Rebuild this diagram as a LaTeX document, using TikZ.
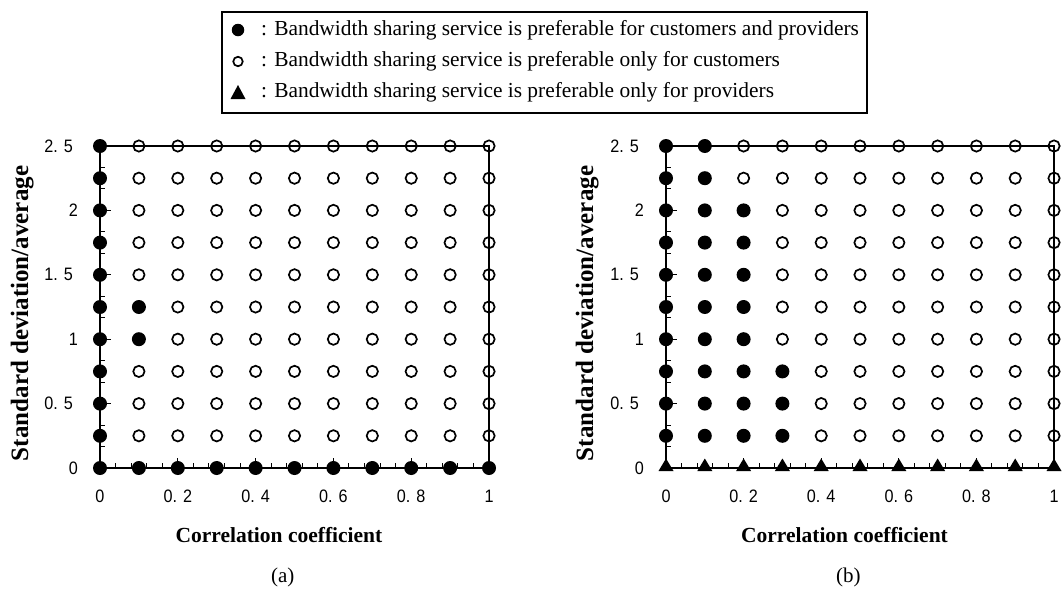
\documentclass[tikz,border=0pt]{standalone}
\usepackage{fontspec}
\setmainfont{Liberation Serif}
\newfontfamily\tickfont[FakeStretch=0.9]{Liberation Sans}
\tikzset{
  axisline/.style={line width=2pt, line cap=rect},
  frameline/.style={line width=1.6pt},
  tickline/.style={line width=1pt},
  fdot/.style={circle, fill=black, inner sep=0pt, minimum size=14pt},
  odot/.style={circle, draw=black, line width=1.7pt, inner sep=0pt, minimum size=11.3pt},
  ticklab/.style={font=\fontsize{18}{18}\tickfont, inner sep=0pt},
  axlab/.style={font=\fontsize{21.5}{21.5}\selectfont\bfseries, inner sep=0pt},
  yaxlab/.style={font=\fontsize{25}{25}\selectfont\bfseries, inner sep=0pt, rotate=90},
  legtext/.style={font=\fontsize{21.4}{21.4}\selectfont, inner sep=0pt, anchor=west},
  sublab/.style={font=\fontsize{21}{21}\selectfont, inner sep=0pt},
  legbox/.style={draw=black, line width=1.3pt},
}
\newcommand\myaxes[1]{%
  \draw[frameline] (0,2.5) -- (1,2.5) -- (1,0);
  \draw[axisline] (0,2.5) -- (0,0) -- (1,0);
  \foreach \k in {1,...,24} \draw[tickline] (\k*0.04,0) -- ++(0,5pt);
  \foreach \k in {1,...,4} \draw[tickline] (\k*0.2,0) -- ++(0,10pt);
  \foreach \k in {1,...,14} \draw[tickline] (0,\k/6) -- ++(5pt,0);
  \foreach \k in {1,...,4} \draw[tickline] (0,\k*0.5) -- ++(11pt,0);
  \foreach \v/\t in {0/0,1/1,2/2} \node[ticklab, anchor=east, xshift=-22pt] (#1-yl\v) at (0,\v) {\t};
  \foreach \v/\t/\n in {0.5/0. 5/a,1.5/1. 5/b,2.5/2. 5/c} \node[ticklab, anchor=east, xshift=-27pt] (#1-yl\n) at (0,\v) {\t};
  \foreach \v/\t/\n in {0/0/a,0.2/0. 2/b,0.4/0. 4/c,0.6/0. 6/d,0.8/0. 8/e,1/1/f} \node[ticklab, anchor=north, yshift=-22pt] (#1-xl\n) at (\v,0) {\t};
  \node[axlab] (#1-xlab) at (0.46,-0.52) {Correlation coefficient};
}
\begin{document}
\begin{tikzpicture}[x=1pt, y=-1pt]
\useasboundingbox (0,0) rectangle (1063,595);
% legend
\draw[legbox] (222,12) rectangle (867,113);
\node[fdot, minimum size=12.5pt] (lg1) at (238,30) {};
\node[odot, minimum size=9.5pt] (lg2) at (238,61.5) {};
\fill (230.5,99) -- (245.5,99) -- (238,85) -- cycle;
\coordinate (lg3) at (238,92.5);
\node[legtext] (lt1) at (261,30) {: Bandwidth sharing service is preferable for customers and providers};
\node[legtext] (lt2) at (261,61.5) {: Bandwidth sharing service is preferable only for customers};
\node[legtext] (lt3) at (261,92.5) {: Bandwidth sharing service is preferable only for providers};
% panel a
\begin{scope}[shift={(100,468)}, x=389pt, y=128.8pt]
  \myaxes{a}
  \foreach \i in {0,...,10} \foreach \j in {0,...,10} {
    \pgfmathtruncatemacro\isf{(\i==0)||(\j==0)||((\i==1)&&(\j>3)&&(\j<6))}
    \ifnum\isf=1
      \node[fdot] (a-\i-\j) at (\i*0.1,\j*0.25) {};
    \else
      \node[odot] (a-\i-\j) at (\i*0.1,\j*0.25) {};
    \fi
  }
  \node[yaxlab] (a-ylab) at (-0.2,1.2) {Standard deviation/average};
  \node[sublab] (a-cap) at (0.47,-0.85) {(a)};
\end{scope}
% panel b
\begin{scope}[shift={(666,468)}, x=388pt, y=128.8pt]
  \myaxes{b}
  \foreach \i in {0,...,10} {
    \fill (\i*0.1,0) ++(-7.5pt,-3pt) -- ++(15pt,0) -- ++(-7.5pt,12.5pt) -- cycle;
    \coordinate (b-\i-0) at (\i*0.1,0);
    \foreach \j in {1,...,10} {
      \pgfmathtruncatemacro\isf{\j <= {10,10,8,3,0,0,0,0,0,0,0}[\i]}
      \ifnum\isf=1
        \node[fdot] (b-\i-\j) at (\i*0.1,\j*0.25) {};
      \else
        \node[odot] (b-\i-\j) at (\i*0.1,\j*0.25) {};
      \fi
    }
  }
  \node[yaxlab] (b-ylab) at (-0.203,1.2) {Standard deviation/average};
  \node[sublab] (b-cap) at (0.47,-0.85) {(b)};
\end{scope}
\end{tikzpicture}
\end{document}
